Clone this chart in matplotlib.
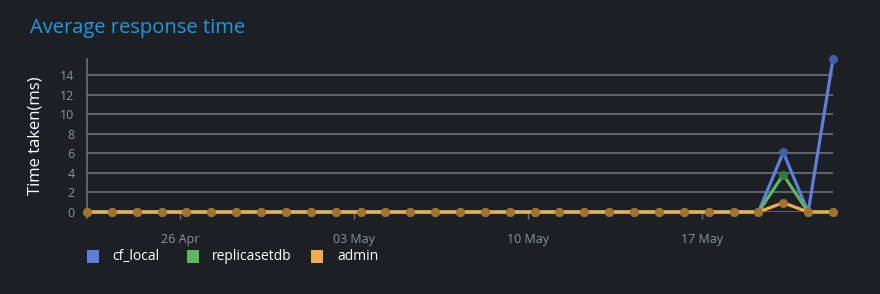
import matplotlib
matplotlib.use("Agg")
import matplotlib.pyplot as plt
import matplotlib.dates as mdates
from matplotlib.patches import Rectangle
import pandas as pd

# veri
dates = pd.date_range("2021-04-22 06:00", periods=31, freq="D")
cf_local = [0] * 28 + [6.1, 0, 15.6]
replicasetdb = [0] * 28 + [3.8, 0, 0]
admin = [0] * 28 + [0.95, 0, 0]

series_names = ["cf_local", "replicasetdb", "admin"]
line_colors = ["#5b7fdb", "#5cb85c", "#f0ad4e"]
marker_colors = ["#3f5fa6", "#2f7d3a", "#a3722d"]
tick_dates = ["2021-04-26", "2021-05-03", "2021-05-10", "2021-05-17"]

BG = "#1c1f23"
W, H = 880, 294
plt.rcParams["font.family"] = ["Open Sans", "DejaVu Sans"]

fig = plt.figure(figsize=(8.8, 2.94), dpi=100, facecolor=BG)
ax = fig.add_axes([87 / W, 1 - 212 / H, (833 - 87) / W, 152.7 / H])
ax.set_facecolor(BG)

for vals, name, lc, mc in zip([cf_local, replicasetdb, admin], series_names, line_colors, marker_colors):
    ax.plot(dates, vals, color=lc, lw=2.3, marker="o", markersize=5.5,
            markerfacecolor=mc, markeredgecolor=mc, clip_on=False, zorder=3, label=name)

ax.set_xlim(dates[0], dates[-1])
ax.set_ylim(0, 15.6)
ax.set_yticks(range(0, 15, 2))
ax.grid(axis="y", color="#6d7074", lw=1.2)
ax.set_axisbelow(True)

ax.set_xticks(pd.to_datetime(tick_dates))
ax.xaxis.set_major_formatter(mdates.DateFormatter("%d %b"))

for s in ["top", "right", "bottom"]:
    ax.spines[s].set_visible(False)
ax.spines["left"].set_color("#6d7074")
ax.spines["left"].set_linewidth(1.2)
ax.spines["left"].set_bounds(-0.6, 15.6)

ax.tick_params(axis="x", length=5, width=1, color="#6d7074", pad=10, labelcolor="#8a949e", labelsize=9)
ax.tick_params(axis="y", length=0, pad=9, labelcolor="#8a949e", labelsize=9)

ax.set_ylabel("Time taken(ms)", color="white", fontsize=12, labelpad=12)

fig.text(30 / W, 1 - 28 / H, "Average response time", color="#1b9ae0", fontsize=14.5, va="center")

# legend, elle yerlestirildi
legend_box_x = [87, 187, 311]
legend_text_x = [112, 212, 337]
for bx, tx, name, c in zip(legend_box_x, legend_text_x, series_names, line_colors):
    fig.add_artist(Rectangle((bx / W, 1 - 263 / H), 12 / W, 13 / H, transform=fig.transFigure,
                             facecolor=c, edgecolor="none"))
    fig.text(tx / W, 1 - 257 / H, name, color="white", fontsize=10, va="center")

fig.savefig("out.png", dpi=100, facecolor=BG)
